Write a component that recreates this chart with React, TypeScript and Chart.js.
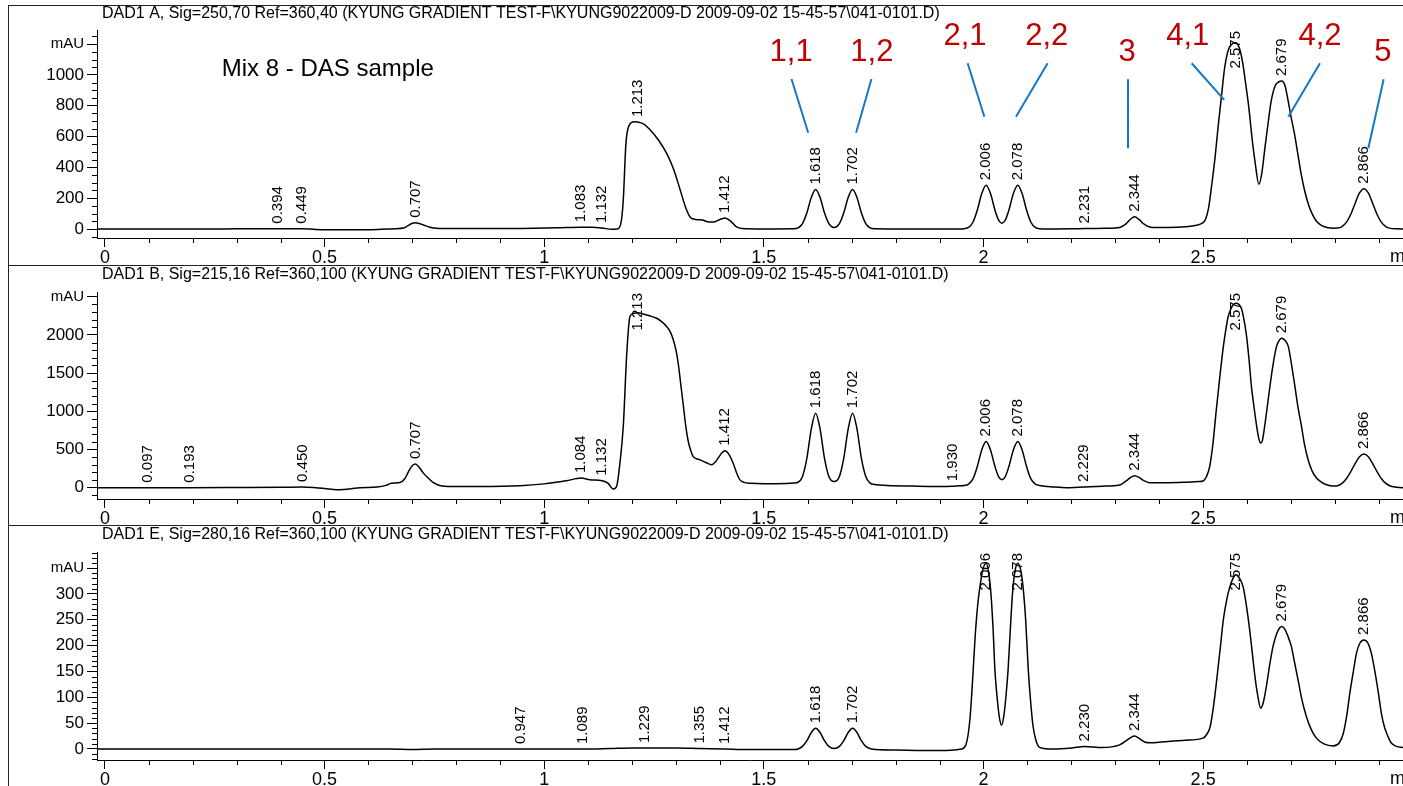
import { useEffect, useRef } from 'react';
import { Chart, registerables } from 'chart.js';

Chart.register(...registerables);

const FONT = '"Liberation Sans", Arial, Helvetica, sans-serif';

// ---------- axis definitions ----------
const xTickValues = [0, 0.5, 1, 1.5, 2, 2.5];
const xTickLabels = ['0', '0.5', '1', '1.5', '2', '2.5'];
const yTicksA = [0, 200, 400, 600, 800, 1000, 1200];
const yTicksB = [0, 500, 1000, 1500, 2000, 2500];
const yTicksE = [0, 50, 100, 150, 200, 250, 300, 350];

// ---------- titles ----------
const titleA = 'DAD1 A, Sig=250,70 Ref=360,40 (KYUNG GRADIENT TEST-F\\KYUNG9022009-D 2009-09-02 15-45-57\\041-0101.D)';
const titleB = 'DAD1 B, Sig=215,16 Ref=360,100 (KYUNG GRADIENT TEST-F\\KYUNG9022009-D 2009-09-02 15-45-57\\041-0101.D)';
const titleE = 'DAD1 E, Sig=280,16 Ref=360,100 (KYUNG GRADIENT TEST-F\\KYUNG9022009-D 2009-09-02 15-45-57\\041-0101.D)';

// ---------- peak retention-time labels ----------
const peaksA = ['0.394', '0.449', '0.707', '1.083', '1.132', '1.213', '1.412', '1.618', '1.702', '2.006', '2.078', '2.231', '2.344', '2.575', '2.679', '2.866'];
const peaksB = ['0.097', '0.193', '0.450', '0.707', '1.084', '1.132', '1.213', '1.412', '1.618', '1.702', '1.930', '2.006', '2.078', '2.229', '2.344', '2.575', '2.679', '2.866'];
const peaksE = ['0.947', '1.089', '1.229', '1.355', '1.412', '1.618', '1.702', '2.006', '2.078', '2.230', '2.344', '2.575', '2.679', '2.866'];

// ---------- traces: [time (min), signal (mAU)] ----------
const traceA: [number, number][] = [
  [-0.02, 0], [0, 0], [0.1, 0], [0.2, 0], [0.3, 1], [0.394, 2], [0.449, 2], [0.48, -3], [0.55, -5], [0.62, -3],
  [0.66, 2], [0.68, 6], [0.69, 22], [0.70, 37], [0.707, 40], [0.715, 36], [0.725, 26], [0.74, 12], [0.755, 5], [0.78, 3],
  [0.85, 3], [0.95, 4], [1.03, 8], [1.083, 12], [1.11, 12], [1.132, 6], [1.155, -2], [1.166, 0], [1.174, 30], [1.180, 187],
  [1.186, 553], [1.193, 671], [1.205, 696], [1.213, 694], [1.225, 684], [1.240, 648], [1.260, 578], [1.280, 485], [1.295, 385], [1.310, 250],
  [1.322, 140], [1.333, 75], [1.345, 62], [1.360, 58], [1.375, 45], [1.385, 45], [1.400, 62], [1.412, 72], [1.425, 50], [1.437, 15],
  [1.450, 3], [1.50, 0], [1.568, 1], [1.578, 7], [1.588, 35], [1.598, 105], [1.608, 205], [1.618, 256], [1.628, 205], [1.638, 105],
  [1.648, 35], [1.660, 10], [1.672, 35], [1.682, 105], [1.692, 205], [1.702, 256], [1.712, 205], [1.722, 105], [1.732, 35], [1.742, 7],
  [1.752, 1], [1.80, 0], [1.90, 0], [1.946, 0], [1.956, 2], [1.966, 10], [1.976, 44], [1.986, 123], [1.996, 230], [2.006, 284],
  [2.016, 230], [2.026, 124], [2.034, 60], [2.042, 38], [2.050, 60], [2.058, 124], [2.068, 230], [2.078, 284], [2.088, 230], [2.098, 123],
  [2.108, 44], [2.118, 10], [2.128, 2], [2.16, 0], [2.20, 1], [2.231, 3], [2.28, 5], [2.31, 10], [2.325, 35], [2.334, 62],
  [2.344, 79], [2.354, 62], [2.364, 35], [2.38, 12], [2.42, 10], [2.46, 15], [2.485, 25], [2.498, 38], [2.505, 60], [2.512, 130],
  [2.519, 273], [2.527, 460], [2.534, 660], [2.542, 870], [2.549, 1047], [2.556, 1150], [2.563, 1195], [2.575, 1210], [2.583, 1170], [2.590, 1080],
  [2.597, 940], [2.604, 790], [2.611, 600], [2.618, 440], [2.627, 290], [2.634, 370], [2.640, 510], [2.648, 690], [2.655, 832], [2.664, 930],
  [2.672, 955], [2.679, 961], [2.686, 935], [2.693, 840], [2.700, 730], [2.708, 617], [2.716, 480], [2.723, 359], [2.731, 250], [2.739, 166],
  [2.748, 100], [2.758, 50], [2.770, 22], [2.785, 8], [2.796, 5], [2.806, 6], [2.816, 16], [2.826, 43], [2.836, 94], [2.846, 166],
  [2.856, 234], [2.866, 262], [2.876, 234], [2.886, 166], [2.896, 94], [2.906, 43], [2.916, 15], [2.926, 4], [2.94, 1], [2.96, 0],
];

const traceB: [number, number][] = [
  [-0.02, 0], [0, 0], [0.097, 0], [0.193, 0], [0.30, 2], [0.40, 5], [0.45, 10], [0.48, 0], [0.51, -17], [0.535, -26],
  [0.56, -15], [0.58, 0], [0.62, 8], [0.64, 30], [0.652, 58], [0.672, 68], [0.683, 120], [0.692, 220], [0.700, 290], [0.707, 310],
  [0.715, 270], [0.725, 191], [0.737, 120], [0.747, 70], [0.762, 30], [0.79, 17], [0.85, 17], [0.945, 26], [1.00, 50], [1.05, 90],
  [1.084, 126], [1.104, 105], [1.132, 91], [1.145, 60], [1.157, -17], [1.165, 20], [1.172, 300], [1.180, 801], [1.188, 1760], [1.195, 2239],
  [1.203, 2280], [1.213, 2290], [1.225, 2274], [1.240, 2250], [1.256, 2218], [1.268, 2170], [1.279, 2108], [1.287, 2040], [1.294, 1934], [1.300, 1800],
  [1.305, 1630], [1.311, 1350], [1.317, 1063], [1.322, 820], [1.328, 605], [1.334, 480], [1.339, 409], [1.346, 380], [1.354, 366], [1.368, 330],
  [1.381, 300], [1.390, 340], [1.396, 388], [1.405, 460], [1.412, 484], [1.420, 440], [1.430, 323], [1.437, 210], [1.445, 105], [1.455, 70],
  [1.470, 58], [1.50, 52], [1.55, 55], [1.568, 60], [1.578, 71], [1.588, 147], [1.598, 387], [1.608, 769], [1.618, 976], [1.628, 769],
  [1.638, 387], [1.648, 147], [1.660, 80], [1.672, 147], [1.682, 387], [1.692, 769], [1.702, 976], [1.712, 769], [1.722, 387], [1.732, 147],
  [1.742, 60], [1.752, 42], [1.78, 30], [1.85, 20], [1.90, 17], [1.93, 20], [1.946, 26], [1.956, 29], [1.966, 47], [1.976, 115],
  [1.986, 278], [1.996, 495], [2.006, 605], [2.016, 495], [2.026, 280], [2.034, 150], [2.042, 105], [2.050, 150], [2.058, 280], [2.068, 495],
  [2.078, 605], [2.088, 495], [2.098, 278], [2.108, 115], [2.118, 47], [2.128, 29], [2.16, 10], [2.19, 0], [2.229, 10], [2.27, 20],
  [2.31, 35], [2.325, 90], [2.335, 135], [2.344, 157], [2.354, 135], [2.364, 95], [2.378, 65], [2.42, 65], [2.455, 70], [2.49, 80],
  [2.500, 88], [2.508, 150], [2.515, 279], [2.522, 560], [2.530, 1019], [2.538, 1450], [2.546, 1847], [2.552, 2080], [2.557, 2239], [2.563, 2340],
  [2.568, 2392], [2.575, 2414], [2.581, 2400], [2.587, 2348], [2.593, 2200], [2.599, 1978], [2.605, 1650], [2.610, 1324], [2.616, 1050], [2.622, 801],
  [2.627, 640], [2.631, 584], [2.635, 620], [2.640, 801], [2.646, 1060], [2.652, 1324], [2.660, 1640], [2.667, 1847], [2.674, 1935], [2.679, 1956],
  [2.686, 1930], [2.694, 1847], [2.701, 1620], [2.709, 1324], [2.716, 1050], [2.724, 801], [2.731, 560], [2.739, 366], [2.748, 220], [2.758, 126],
  [2.770, 70], [2.781, 39], [2.796, 22], [2.806, 25], [2.816, 56], [2.826, 117], [2.836, 209], [2.846, 316], [2.856, 405], [2.866, 440],
  [2.876, 405], [2.886, 316], [2.896, 209], [2.906, 117], [2.916, 56], [2.926, 23], [2.936, 8], [2.946, 2], [2.96, 0],
];

const traceE: [number, number][] = [
  [-0.02, 0], [0, 0], [0.5, 0], [0.65, 0], [0.70, -1], [0.75, 0], [0.947, 0], [1.089, 0], [1.15, 1], [1.20, 2],
  [1.229, 2], [1.30, 2], [1.355, 1], [1.412, 0], [1.46, -1], [1.57, -1], [1.578, 0], [1.588, 5], [1.598, 16], [1.608, 32],
  [1.618, 40], [1.628, 32], [1.638, 16], [1.648, 5], [1.660, 1], [1.672, 5], [1.682, 16], [1.692, 32], [1.702, 40], [1.712, 32],
  [1.722, 16], [1.732, 5], [1.745, 0], [1.80, -2], [1.90, -3], [1.95, 0], [1.960, 8], [1.969, 56], [1.975, 130], [1.981, 217],
  [1.987, 280], [1.992, 314], [1.998, 345], [2.006, 359], [2.012, 340], [2.017, 300], [2.022, 230], [2.026, 153], [2.031, 100], [2.036, 62],
  [2.041, 46], [2.046, 62], [2.051, 100], [2.056, 153], [2.061, 230], [2.066, 300], [2.071, 340], [2.078, 359], [2.085, 345], [2.090, 314],
  [2.096, 250], [2.102, 153], [2.108, 85], [2.113, 43], [2.120, 15], [2.128, 3], [2.16, 0], [2.20, 2], [2.230, 5], [2.27, 3],
  [2.31, 8], [2.325, 16], [2.335, 22], [2.344, 25], [2.355, 20], [2.368, 13], [2.38, 12], [2.41, 14], [2.46, 17], [2.50, 21],
  [2.508, 28], [2.516, 43], [2.524, 85], [2.531, 134], [2.539, 195], [2.546, 250], [2.554, 290], [2.561, 314], [2.568, 330], [2.575, 337],
  [2.583, 330], [2.591, 314], [2.598, 280], [2.606, 230], [2.612, 185], [2.618, 140], [2.624, 105], [2.631, 79], [2.637, 90], [2.644, 121],
  [2.651, 160], [2.659, 198], [2.667, 222], [2.674, 234], [2.679, 237], [2.686, 232], [2.693, 218], [2.701, 198], [2.708, 168], [2.716, 134],
  [2.725, 95], [2.735, 63], [2.746, 38], [2.758, 21], [2.775, 10], [2.796, 6], [2.810, 12], [2.819, 30], [2.827, 65], [2.834, 108],
  [2.842, 150], [2.849, 185], [2.857, 205], [2.866, 211], [2.875, 205], [2.883, 185], [2.891, 150], [2.899, 108], [2.906, 68], [2.912, 45],
  [2.918, 30], [2.928, 12], [2.940, 5], [2.955, 3],
];

// ---------- compound annotations on panel A (data coordinates) ----------
const compoundLabels = ['1,1', '1,2', '2,1', '2,2', '3', '4,1', '4,2', '5'];
const compoundLabelT = [1.562, 1.746, 1.958, 2.144, 2.327, 2.465, 2.766, 2.909];
const compoundLabelV = [1149, 1149, 1247, 1247, 1149, 1253, 1253, 1149];
const leaderStartT = [1.563, 1.745, 1.964, 2.146, 2.329, 2.474, 2.766, 2.911];
const leaderStartV = [974, 974, 1076, 1076, 972, 1076, 1076, 972];
const leaderEndT = [1.601, 1.710, 2.002, 2.074, 2.329, 2.548, 2.694, 2.876];
const leaderEndV = [625, 625, 729, 729, 524, 838, 729, 524];

const sampleNote = 'Mix 8 - DAS sample';
const sampleNoteT = 0.266;
const sampleNoteV = 1039;

// ---------- layout / style ----------
const X_MIN = -0.018;
const X_MAX = 2.955;
const WIDTH = 1403;

type Panel = {
  top: number;
  height: number;
  plotTop: number;
  plotBottom: number;
  yMin: number;
  yMax: number;
  yTicks: number[];
  yMinorStep: number;
  title: string;
  titleY: number;
  trace: [number, number][];
  peaks: string[];
  annotated: boolean;
};

const panels: Panel[] = [
  { top: 0, height: 265, plotTop: 30, plotBottom: 238, yMin: -58.4, yMax: 1292, yTicks: yTicksA, yMinorStep: 50, title: titleA, titleY: 14, trace: traceA, peaks: peaksA, annotated: true },
  { top: 265, height: 260, plotTop: 27, plotBottom: 234, yMin: -148, yMax: 2562, yTicks: yTicksB, yMinorStep: 100, title: titleB, titleY: 10, trace: traceB, peaks: peaksB, annotated: false },
  { top: 525, height: 261, plotTop: 27, plotBottom: 235, yMin: -21.3, yMax: 381, yTicks: yTicksE, yMinorStep: 10, title: titleE, titleY: 10, trace: traceE, peaks: peaksE, annotated: false },
];

function valueAt(trace: [number, number][], t: number): number {
  for (let i = 1; i < trace.length; i++) {
    const [t0, v0] = trace[i - 1];
    const [t1, v1] = trace[i];
    if (t >= t0 && t <= t1) {
      const f = t1 === t0 ? 0 : (t - t0) / (t1 - t0);
      return v0 + f * (v1 - v0);
    }
  }
  return 0;
}

function makeDecor(p: Panel) {
  return {
    id: 'decor',
    afterDraw(chart: any) {
      const { ctx, chartArea } = chart;
      const xs = chart.scales.x;
      const ys = chart.scales.y;
      ctx.save();
      // minor ticks
      ctx.strokeStyle = '#000';
      ctx.lineWidth = 1;
      ctx.beginPath();
      for (let k = 1; k * 0.1 <= X_MAX; k++) {
        if (k % 5 === 0) continue;
        const px = Math.round(xs.getPixelForValue(k * 0.1)) + 0.5;
        ctx.moveTo(px, chartArea.bottom);
        ctx.lineTo(px, chartArea.bottom + 5);
      }
      const major = p.yTicks[1] - p.yTicks[0];
      const kStart = Math.ceil(p.yMin / p.yMinorStep);
      for (let k = kStart; k * p.yMinorStep <= p.yMax; k++) {
        const v = k * p.yMinorStep;
        if (Math.abs(v % major) < 1e-6 && v >= 0 && v <= p.yTicks[p.yTicks.length - 1]) continue;
        const py = Math.round(ys.getPixelForValue(v)) + 0.5;
        if (py < chartArea.top - 0.5 || py > chartArea.bottom + 0.5) continue;
        ctx.moveTo(chartArea.left - 5, py);
        ctx.lineTo(chartArea.left, py);
      }
      ctx.stroke();

      // title
      ctx.fillStyle = '#000';
      ctx.font = `16px ${FONT}`;
      ctx.textAlign = 'left';
      ctx.textBaseline = 'middle';
      ctx.fillText(p.title, 102, p.titleY);

      // time unit
      ctx.font = `18px ${FONT}`;
      ctx.fillText('min', 1390, chartArea.bottom + 19);

      // peak labels
      ctx.font = `15px ${FONT}`;
      for (const lab of p.peaks) {
        const t = parseFloat(lab);
        const px = xs.getPixelForValue(t);
        const py = ys.getPixelForValue(valueAt(p.trace, t));
        const w = ctx.measureText(lab).width;
        let yb = py - 5;
        if (yb - w < chartArea.top + 1) yb = chartArea.top + 1 + w;
        ctx.save();
        ctx.translate(px, yb);
        ctx.rotate(-Math.PI / 2);
        ctx.textAlign = 'left';
        ctx.textBaseline = 'middle';
        ctx.fillText(lab, 0, 0);
        ctx.restore();
      }

      if (p.annotated) {
        ctx.font = `24px ${FONT}`;
        ctx.textAlign = 'left';
        ctx.fillStyle = '#000';
        ctx.fillText(sampleNote, xs.getPixelForValue(sampleNoteT), ys.getPixelForValue(sampleNoteV));

        ctx.strokeStyle = '#1479C4';
        ctx.lineWidth = 2;
        ctx.beginPath();
        for (let i = 0; i < leaderStartT.length; i++) {
          ctx.moveTo(xs.getPixelForValue(leaderStartT[i]), ys.getPixelForValue(leaderStartV[i]));
          ctx.lineTo(xs.getPixelForValue(leaderEndT[i]), ys.getPixelForValue(leaderEndV[i]));
        }
        ctx.stroke();

        ctx.fillStyle = '#C00000';
        ctx.font = `31px ${FONT}`;
        ctx.textAlign = 'center';
        ctx.textBaseline = 'middle';
        for (let i = 0; i < compoundLabels.length; i++) {
          ctx.fillText(compoundLabels[i], xs.getPixelForValue(compoundLabelT[i]), ys.getPixelForValue(compoundLabelV[i]));
        }
      }
      ctx.restore();
    },
  };
}

function buildConfig(p: Panel): any {
  const topTick = p.yTicks[p.yTicks.length - 1];
  return {
    type: 'line',
    data: {
      datasets: [
        {
          data: p.trace.map(([x, y]) => ({ x, y })),
          borderColor: '#000',
          borderWidth: 1.5,
          pointRadius: 0,
          fill: false,
          cubicInterpolationMode: 'monotone',
        },
      ],
    },
    options: {
      animation: false,
      responsive: false,
      events: [],
      layout: { padding: { top: p.plotTop, left: 0, right: 0, bottom: 0 } },
      plugins: { legend: { display: false }, tooltip: { enabled: false }, title: { display: false } },
      scales: {
        x: {
          type: 'linear',
          min: X_MIN,
          max: X_MAX,
          afterBuildTicks: (s: any) => {
            s.ticks = xTickValues.map((v) => ({ value: v }));
          },
          afterFit: (s: any) => {
            s.height = p.height - p.plotBottom;
          },
          ticks: {
            autoSkip: false,
            maxRotation: 0,
            padding: 0,
            color: '#000',
            font: { family: FONT, size: 18 },
            callback: (_v: any, i: number) => xTickLabels[i] ?? '',
          },
          grid: { drawOnChartArea: false, drawTicks: true, tickLength: 9, color: '#000' },
          border: { display: true, color: '#000', width: 1 },
        },
        y: {
          type: 'linear',
          min: p.yMin,
          max: p.yMax,
          afterBuildTicks: (s: any) => {
            s.ticks = p.yTicks.map((v) => ({ value: v }));
          },
          afterFit: (s: any) => {
            s.width = 97;
          },
          ticks: {
            padding: 3,
            color: '#000',
            font: (c: any) => ({ family: FONT, size: c.tick && c.tick.value === topTick ? 15 : 17 }),
            callback: (v: any) => (v === topTick ? 'mAU' : String(v)),
          },
          grid: { drawOnChartArea: false, drawTicks: true, tickLength: 10, color: '#000' },
          border: { display: true, color: '#000', width: 1 },
        },
      },
    },
    plugins: [makeDecor(p)],
  };
}

function PanelChart({ p }: { p: Panel }) {
  const ref = useRef<HTMLCanvasElement>(null);
  useEffect(() => {
    if (!ref.current) return;
    const chart = new Chart(ref.current, buildConfig(p));
    return () => chart.destroy();
  }, [p]);
  return (
    <canvas
      ref={ref}
      width={WIDTH}
      height={p.height}
      style={{ position: 'absolute', left: 0, top: p.top, width: WIDTH, height: p.height, display: 'block' }}
    />
  );
}

const lineStyle = (s: any) => ({ position: 'absolute' as const, background: '#222', ...s });

export default function App() {
  return (
    <div style={{ position: 'fixed', left: 0, top: 0, width: WIDTH, height: 786, overflow: 'hidden', background: '#fff' }}>
      {panels.map((p, i) => (
        <PanelChart key={i} p={p} />
      ))}
      <div style={lineStyle({ left: 8, top: 5, width: WIDTH - 8, height: 1 })} />
      <div style={lineStyle({ left: 8, top: 5, width: 1, height: 781 })} />
      <div style={lineStyle({ left: 8, top: 265, width: WIDTH - 8, height: 1 })} />
      <div style={lineStyle({ left: 8, top: 525, width: WIDTH - 8, height: 1 })} />
    </div>
  );
}
